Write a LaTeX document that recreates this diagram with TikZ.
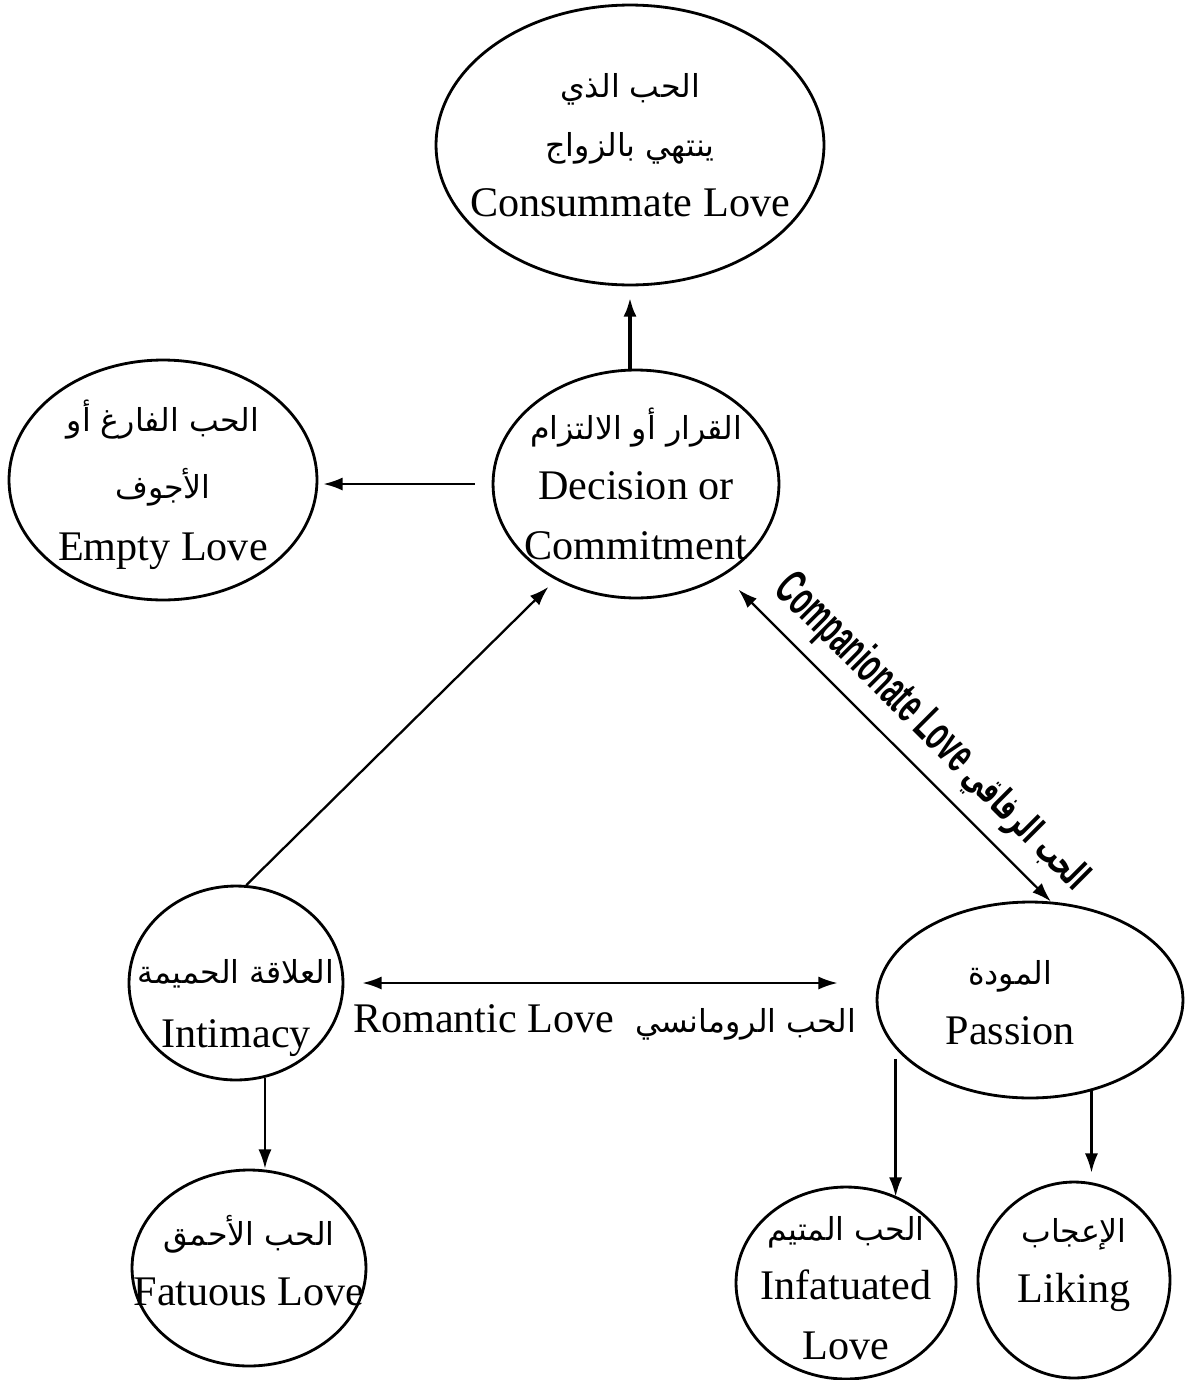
\documentclass[tikz,border=0pt]{standalone}
\usepackage{fontspec}
\setmainfont{Liberation Serif}
\newfontfamily\arabicfont[Script=Arabic]{DejaVu Sans}
\newfontfamily\narrowfont[FakeStretch=0.55]{Liberation Sans}
\newfontfamily\arabicnarrow[Script=Arabic,FakeStretch=0.6]{DejaVu Sans}
\TeXXeTstate=1
\usetikzlibrary{shapes.geometric, arrows.meta}
\newcommand{\ar}[1]{{\arabicfont\fontsize{18}{34}\selectfont\beginR #1\endR}}

\begin{document}
\begin{tikzpicture}[x=0.02cm, y=-0.02cm, >={Latex[length=11pt, width=7.5pt]},
		love/.style={ellipse, draw, line width=1.6pt, inner sep=0pt},
		txt/.style={align=center, font=\fontsize{24}{34}\selectfont},
		link/.style={line width=1.3pt}]

		\useasboundingbox (0,0) rectangle (1184,1380);

		% Consummate
		\node [love, minimum width=7.76cm, minimum height=5.6cm,
			label={[txt]center:{\ar{الحب الذي}\\ \ar{ينتهي بالزواج}\\ Consummate Love}}]
			(cons) at (630,145) {};

		% Decision
		\node [love, minimum width=5.72cm, minimum height=4.56cm,
			label={[txt]center:{\ar{القرار أو الالتزام}\\ Decision or\\ Commitment}}]
			(dec) at (636,484) {};

		% Empty
		\node [love, minimum width=6.16cm, minimum height=4.8cm,
			label={[txt, yshift=-0.1cm]center:{\ar{الحب الفارغ أو}\\[0.15cm] \ar{الأجوف}\\[0.05cm] Empty Love}}]
			(empty) at (163,480) {};

		% Intimacy
		\node [love, minimum width=4.28cm, minimum height=3.88cm,
			label={[txt, yshift=-0.5cm]center:{\ar{العلاقة الحميمة}\\[0.1cm] Intimacy}}]
			(int) at (236,983) {};

		% Passion
		\node [love, minimum width=6.12cm, minimum height=3.92cm,
			label={[txt, xshift=-0.4cm, yshift=-0.05cm]center:{\ar{المودة}\\ Passion}}]
			(pas) at (1030,1000) {};

		% Fatuous
		\node [love, minimum width=4.68cm, minimum height=3.92cm,
			label={[txt, yshift=0.15cm]center:{\ar{الحب الأحمق}\\ Fatuous Love}}]
			(fat) at (249,1268) {};

		% Infatuated
		\node [love, minimum width=4.4cm, minimum height=3.84cm,
			label={[txt, yshift=-0.1cm]center:{\ar{الحب المتيم}\\ Infatuated\\ Love}}]
			(inf) at (846,1283) {};

		% Liking
		\node [love, minimum width=3.84cm, minimum height=3.92cm,
			label={[txt, yshift=0.3cm]center:{\ar{الإعجاب}\\ Liking}}]
			(lik) at (1074,1280) {};

		\draw [->, line width=2.2pt, shorten >=0.22cm] (dec.north -| cons) -- (cons.south);
		\draw [->, link, shorten <=0.34cm, shorten >=0.1cm] (dec.west) -- (dec.west -| empty.east);
		\draw [->, link, shorten >=0.2cm] (int.84) -- (dec.230);

		\draw [<->, link, shorten <=0.4cm] (dec.314) --
			node [sloped, pos=0.56, above=0.12cm] {
				\narrowfont\bfseries\fontsize{28}{30}\selectfont Companionate Love
				{\arabicnarrow\bfseries\fontsize{22}{30}\selectfont\beginR الحب الرفاقي\endR}
			}
			(pas.78);

		\draw [<->, link, shorten <=0.36cm, shorten >=0.76cm] (int.east) --
			node [txt, midway, below=0.3cm] {
				Romantic Love\ \ \ar{الحب الرومانسي}
			}
			(int.east -| pas.west);

		% Down arrows
		\draw [->, link] (int.287) -- (int.287 |- fat.north);
		\draw [->, link, shorten <=0.2cm, shorten >=-0.22cm] (pas.200) -- (pas.200 |- inf.north);
		\draw [->, link, shorten >=0.16cm] (pas.304) -- (pas.304 |- lik.north);

	\end{tikzpicture}
\end{document}
